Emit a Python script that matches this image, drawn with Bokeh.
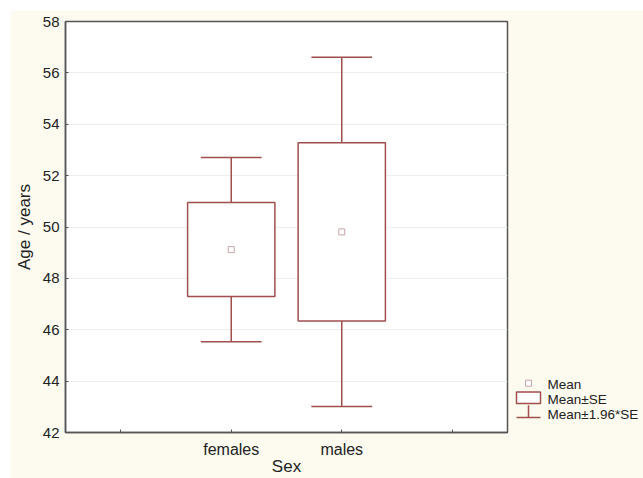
from bokeh.plotting import figure
from bokeh.models import Range1d, FixedTicker, ColumnDataSource, Spacer
from bokeh.layouts import row, column
from bokeh.embed import file_html
from bokeh.resources import INLINE
from bokeh.core.properties import value

# ---- data ----
categories = ["females", "males"]
cat_pos = [1.5, 2.5]
means = [49.12, 49.81]
se = [1.83, 3.47]
legend_labels = ["Mean", "Mean\u00b1SE", "Mean\u00b11.96*SE"]
y_ticks = [42, 44, 46, 48, 50, 52, 54, 56, 58]

se_lo = [m - s for m, s in zip(means, se)]
se_hi = [m + s for m, s in zip(means, se)]
ci_lo = [m - 1.96 * s for m, s in zip(means, se)]
ci_hi = [m + 1.96 * s for m, s in zip(means, se)]

CREAM = "#fdfbf0"
BOX = "#a04e4e"
MEANC = "#c6a6a6"
AXC = "#555555"
FONT = "Liberation Sans"

box_half = 0.395
cap_half = 0.275

src = ColumnDataSource(dict(
    x=cat_pos, mean=means, se_lo=se_lo, se_hi=se_hi, ci_lo=ci_lo, ci_hi=ci_hi,
    left=[c - box_half for c in cat_pos], right=[c + box_half for c in cat_pos],
    cl=[c - cap_half for c in cat_pos], cr=[c + cap_half for c in cat_pos],
))

TOP = 11
LEFT = 11
H = 478 - TOP
W = 512 - LEFT
p = figure(width=W, height=H, output_backend="svg", toolbar_location=None,
           x_range=Range1d(0, 4), y_range=Range1d(42, 58),
           min_border_left=61 - LEFT, min_border_right=5, min_border_top=21 - TOP,
           min_border_bottom=H - (21 - TOP) - 413)
p.background_fill_color = "white"
p.border_fill_color = CREAM
p.outline_line_color = AXC
p.outline_line_width = 1.5

# whiskers
p.segment(x0="x", y0="se_hi", x1="x", y1="ci_hi", source=src, line_color=BOX, line_width=1.5)
p.segment(x0="x", y0="se_lo", x1="x", y1="ci_lo", source=src, line_color=BOX, line_width=1.5)
p.segment(x0="cl", y0="ci_hi", x1="cr", y1="ci_hi", source=src, line_color=BOX, line_width=1.5)
p.segment(x0="cl", y0="ci_lo", x1="cr", y1="ci_lo", source=src, line_color=BOX, line_width=1.5)
# boxes
p.quad(left="left", right="right", bottom="se_lo", top="se_hi", source=src,
       fill_color="white", line_color=BOX, line_width=1.5)
# means
p.scatter(x="x", y="mean", source=src, marker="square", size=6,
          fill_color="white", line_color=MEANC, line_width=1)

# axes
p.xaxis.ticker = FixedTicker(ticks=[0.5, 1.5, 2.5, 3.5])
p.xaxis.major_label_overrides = {0.5: "", 1.5: categories[0], 2.5: categories[1], 3.5: ""}
p.yaxis.ticker = FixedTicker(ticks=y_ticks)
for ax in (p.xaxis, p.yaxis):
    ax.axis_line_color = AXC
    ax.axis_line_width = 1.5
    ax.major_tick_line_color = AXC
    ax.major_tick_in = 3
    ax.major_tick_out = 0
    ax.minor_tick_line_color = None
    ax.major_label_text_font = FONT
    ax.major_label_text_font_size = "15px"
    ax.major_label_text_color = "#222222"
    ax.axis_label_text_font = FONT
    ax.axis_label_text_font_size = "17px"
    ax.axis_label_text_font_style = "normal"
    ax.axis_label_text_color = "#222222"
p.xaxis.major_label_text_font_size = "16px"
p.xaxis.axis_label = "Sex"
p.yaxis.axis_label = "Age / years"
p.xaxis.major_label_standoff = 8
p.xaxis.axis_label_standoff = -4
p.yaxis.major_label_standoff = 6
p.yaxis.axis_label_standoff = 6

p.xgrid.grid_line_color = None
p.ygrid.grid_line_color = "#eeeeee"

# ---- legend panel ----
LW = 643 - 512
lg = figure(width=LW, height=H, output_backend="svg", toolbar_location=None,
            x_range=Range1d(0, LW), y_range=Range1d(H, 0),
            min_border=0)
lg.axis.visible = False
lg.grid.visible = False
lg.outline_line_color = None
lg.background_fill_color = CREAM
lg.border_fill_color = CREAM

row_y = [424 - TOP + 17 * i for i in range(len(legend_labels))]
sym_l, sym_c, sym_r = 4, 16, 28
# Mean symbol
lg.scatter(x=[sym_c], y=[row_y[0] - 2], marker="square", size=6,
           fill_color="white", line_color=MEANC, line_width=1)
# Mean±SE symbol
lg.quad(left=[sym_l], right=[sym_r], top=[row_y[1] - 9], bottom=[row_y[1] + 4],
        fill_color="white", line_color=BOX, line_width=1.5)
# Mean±1.96*SE symbol
lg.segment(x0=[sym_c], y0=[row_y[2] - 11], x1=[sym_c], y1=[row_y[2] + 3], line_color=BOX, line_width=1.5)
lg.segment(x0=[sym_l], y0=[row_y[2] + 3], x1=[sym_r], y1=[row_y[2] + 3], line_color=BOX, line_width=1.5)

lg.text(x=[35] * len(legend_labels), y=row_y, text=legend_labels,
        text_font=value(FONT), text_font_size="13.5px", text_baseline="middle",
        text_color="#222222")

inner = row(p, lg, styles={"background-color": CREAM})
layout = column(Spacer(width=643, height=TOP),
                row(Spacer(width=LEFT, height=H), inner),
                styles={"position": "absolute", "left": "0px", "top": "0px"})
open("out.html", "w").write(file_html(layout, INLINE))
